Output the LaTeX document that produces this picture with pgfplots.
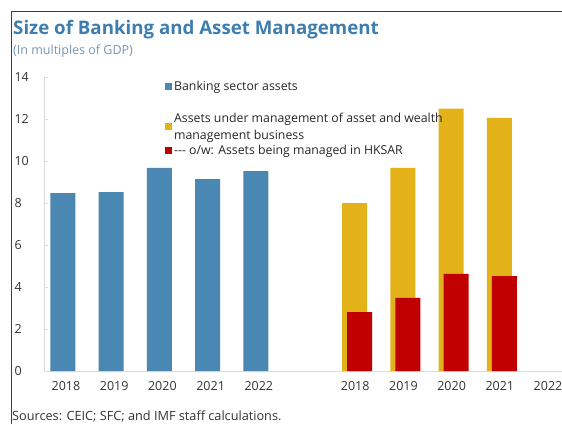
\documentclass[border=0pt]{standalone}
\usepackage{fontspec}
\setmainfont{Open Sans}
\usepackage{pgfplots}
\pgfplotsset{compat=1.18}

\definecolor{bankblue}{HTML}{4A87B3}
\definecolor{amgold}{HTML}{E2B218}
\definecolor{hkred}{HTML}{C00000}
\definecolor{titleblue}{HTML}{3D7DB0}
\definecolor{subblue}{HTML}{7894B4}
\definecolor{axisgray}{HTML}{DCDCDC}

% slots 0-4: banking, slots 6-10: asset management
\pgfplotstableread{
x  val
0  8.47
1  8.52
2  9.67
3  9.14
4  9.52
}\banking
\pgfplotstableread{
x  val
6  8.00
7  9.67
8  12.50
9  12.05
}\aum
\pgfplotstableread{
x  val
6  2.80
7  3.48
8  4.62
9  4.52
}\hksar

\begin{document}
\begin{tikzpicture}
\useasboundingbox (0,0) rectangle (562pt,424pt);
% frame
\draw[black!75, line width=1pt] (11.5pt,0) -- (11.5pt,412pt) -- (562pt,412pt);
% titles
\node[anchor=west, inner sep=0pt, font=\fontsize{18.7}{22}\selectfont\bfseries, text=titleblue]
  at (13pt,394pt) {Size of Banking and Asset Management};
\node[anchor=west, inner sep=0pt, font=\fontsize{12.5}{15}\selectfont, text=subblue]
  at (13pt,373pt) {(In multiples of GDP)};
\node[anchor=west, inner sep=0pt, font=\fontsize{12.7}{15}\selectfont, text=black!80]
  at (12pt,8pt) {Sources: CEIC; SFC; and IMF staff calculations.};

\begin{axis}[
  at={(44pt,53pt)}, anchor=south west,
  scale only axis, width=518pt, height=294pt,
  xmin=-0.456, xmax=10.29, ymin=0, ymax=14,
  axis lines*=left,
  axis line style={draw=axisgray},
  ytick={0,2,...,14},
  xtick={0,1,2,3,4,6,7,8,9,10},
  xticklabels={2018,2019,2020,2021,2022,2018,2019,2020,2021,2022},
  xtick style={draw=none},
  ytick style={draw=axisgray},
  tick align=inside, major tick length=4pt,
  tick label style={font=\fontsize{12.5}{15}\selectfont, text=black!80},
  yticklabel style={anchor=west, xshift=-33pt},
  xticklabel style={yshift=-7pt},
  /pgf/number format/assume math mode=true,
  legend style={at={(0.2335,0.995)}, anchor=north west, draw=none, fill=none,
    font=\fontsize{12.3}{17}\selectfont, inner sep=0pt, row sep=0pt,
    cells={align=left, inner ysep=1.5pt}, text=black!85},
  legend cell align=left,
  legend image code/.code={\fill[#1] (0pt,-3.5pt) rectangle (7pt,3.5pt);},
  clip=false,
]
\addplot[ybar, bar width=25pt, fill=bankblue, draw=none, bar shift=-3pt] table[x=x, y=val] {\banking};
\addlegendentry{Banking sector assets}
\addlegendimage{empty legend}
\addlegendentry{\strut}
\addplot[ybar, bar width=25pt, fill=amgold, draw=none, bar shift=-0.5pt] table[x=x, y=val] {\aum};
\addlegendentry{Assets under management of asset and wealth\\management business}
\addplot[ybar, bar width=25pt, fill=hkred, draw=none, bar shift=4.5pt] table[x=x, y=val] {\hksar};
\addlegendentry{-{}-{}- o/w: Assets being managed in HKSAR}
\end{axis}
\end{tikzpicture}
\end{document}
